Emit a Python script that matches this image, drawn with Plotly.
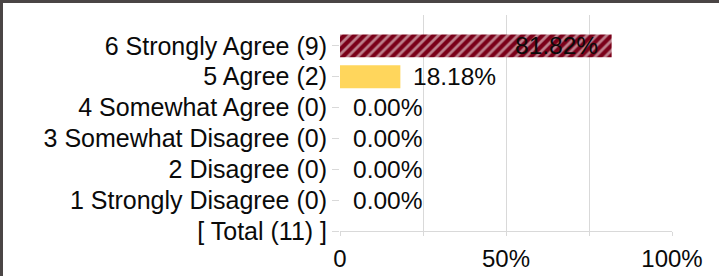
import plotly.graph_objects as go

categories = ["[ Total (11) ]", "1 Strongly Disagree (0)", "2 Disagree (0)",
              "3 Somewhat Disagree (0)", "4 Somewhat Agree (0)", "5 Agree (2)",
              "6 Strongly Agree (9)"]
bar_categories = ["1 Strongly Disagree (0)", "2 Disagree (0)", "3 Somewhat Disagree (0)",
                  "4 Somewhat Agree (0)", "5 Agree (2)", "6 Strongly Agree (9)"]
percent_values = [0.0, 0.0, 0.0, 0.0, 18.18, 81.82]
bar_colors = ["#ffd65c", "#ffd65c", "#ffd65c", "#ffd65c", "#ffd65c", "#7a0019"]
bar_patterns = ["", "", "", "", "", "/"]
tick_vals = [0, 25, 50, 75, 100]
tick_text = ["0", "", "50%", "", "100%"]

FONT = "Liberation Sans, Arial, sans-serif"
GRID = "#d9d9d9"
TEXT = "#0a0a0a"

fig = go.Figure()
fig.add_trace(go.Bar(
    y=bar_categories,
    x=percent_values,
    orientation="h",
    width=0.74,
    marker=dict(
        color=bar_colors,
        line=dict(width=0),
        pattern=dict(shape=bar_patterns, fgcolor="#220006",
                     size=7, solidity=0.4, fillmode="overlay"),
    ),
    hoverinfo="skip",
    showlegend=False,
))

# value labels
for cat, v in zip(bar_categories, percent_values):
    inside = v > 50
    fig.add_annotation(
        x=v, y=cat, xref="x", yref="y",
        text=f"{v:.2f}%",
        showarrow=False,
        xanchor="right" if inside else "left",
        xshift=-12 if inside else 11,
        font=dict(family=FONT, size=24.5, color=TEXT),
    )

fig.update_layout(
    width=719, height=276,
    margin=dict(l=340, r=47, t=15, b=45, autoexpand=False),
    paper_bgcolor="white", plot_bgcolor="white",
    font=dict(family=FONT, size=24, color=TEXT),
    bargap=0.26,
    xaxis=dict(
        range=[0, 100], tickvals=tick_vals, ticktext=tick_text,
        showgrid=True, gridcolor=GRID, gridwidth=1,
        showline=True, linecolor=GRID, linewidth=1,
        ticks="outside", ticklen=4, tickcolor=GRID,
        ticklabelstandoff=2, automargin=False,
        zeroline=False, fixedrange=True,
        tickfont=dict(family=FONT, size=24, color=TEXT),
    ),
    yaxis=dict(
        type="category", categoryorder="array", categoryarray=categories,
        tickmode="array", tickvals=categories, ticktext=categories,
        range=[0, 7], showgrid=False,
        ticks="outside", ticklen=7, tickcolor=GRID,
        showline=False, zeroline=False, automargin=False,
        ticklabelstandoff=0, fixedrange=True,
        tickfont=dict(family=FONT, size=25, color=TEXT),
    ),
)

# frame lines on top and left edges of the picture
plot_w = 719 - 340 - 47
plot_h = 276 - 15 - 45
def px_x(p):
    return (p - 340) / plot_w
def px_y(p):
    return (276 - 45 - p) / plot_h
fig.add_shape(type="rect", xref="paper", yref="paper",
              x0=px_x(0), x1=px_x(719), y0=px_y(3), y1=px_y(0),
              fillcolor="#4a4545", line=dict(width=0), layer="above")
fig.add_shape(type="rect", xref="paper", yref="paper",
              x0=px_x(0), x1=px_x(3), y0=px_y(276), y1=px_y(0),
              fillcolor="#4a4545", line=dict(width=0), layer="above")

fig.write_html("out.html",
               config={"displayModeBar": False, "staticPlot": True},
               post_script="document.body.style.margin='0';document.body.style.overflow='hidden';")
